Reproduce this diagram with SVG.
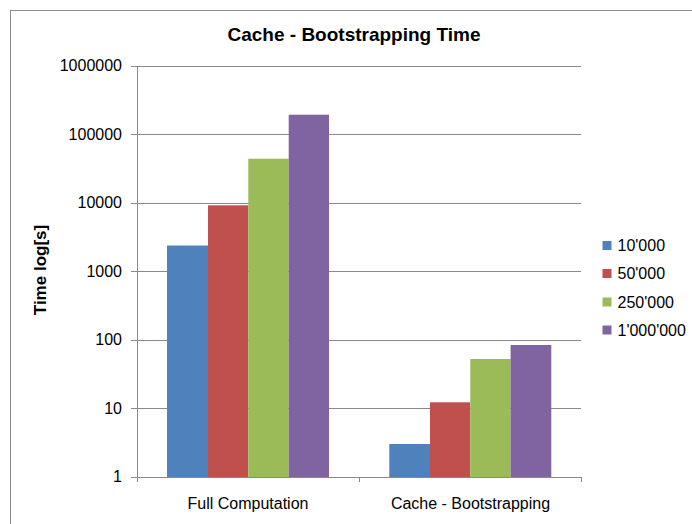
<svg xmlns="http://www.w3.org/2000/svg" width="692" height="524" viewBox="0 0 692 524">
  <style>
    .lbl { font-family: "Liberation Sans", Arial, sans-serif; font-size: 16px; fill: #000; }
    .ytick { text-anchor: end; }
    .cat { text-anchor: middle; }
    .title { font-family: "Liberation Sans", Arial, sans-serif; font-weight: bold; font-size: 19px; fill: #000; text-anchor: middle; }
    .ytitle { font-family: "Liberation Sans", Arial, sans-serif; font-weight: bold; font-size: 17px; fill: #000; text-anchor: middle; }
    .grid { stroke: #898989; stroke-width: 1; fill: none; }
    .axis { stroke: #898989; stroke-width: 1; fill: none; }
    .s1 { fill: #4F81BD; }
    .s2 { fill: #C0504D; }
    .s3 { fill: #9BBB59; }
    .s4 { fill: #8064A2; }
  </style>
  <rect x="0" y="0" width="692" height="524" fill="#ffffff"/>
  <rect x="10.5" y="10.5" width="700" height="600" fill="none" stroke="#8c8c8c" stroke-width="1"/>

  <g id="title">
    <text class="title" x="354" y="41">Cache - Bootstrapping Time</text>
  </g>

  <g id="gridlines">
    <line class="grid" x1="131" y1="66.5" x2="581" y2="66.5"/>
    <line class="grid" x1="131" y1="134.5" x2="581" y2="134.5"/>
    <line class="grid" x1="131" y1="203.5" x2="581" y2="203.5"/>
    <line class="grid" x1="131" y1="271.5" x2="581" y2="271.5"/>
    <line class="grid" x1="131" y1="340.5" x2="581" y2="340.5"/>
    <line class="grid" x1="131" y1="408.5" x2="581" y2="408.5"/>
  </g>

  <g id="y-axis">
    <line class="axis" x1="137.5" y1="66" x2="137.5" y2="482"/>
    <line class="axis" x1="131" y1="477.5" x2="137" y2="477.5"/>
    <text class="lbl ytick" x="122" y="71">1000000</text>
    <text class="lbl ytick" x="122" y="139.5">100000</text>
    <text class="lbl ytick" x="122" y="208">10000</text>
    <text class="lbl ytick" x="122" y="276.5">1000</text>
    <text class="lbl ytick" x="122" y="345">100</text>
    <text class="lbl ytick" x="122" y="413.5">10</text>
    <text class="lbl ytick" x="122" y="482">1</text>
    <text class="ytitle" transform="translate(46,270) rotate(-90)">Time log[s]</text>
  </g>

  <g id="bars-full">
    <rect class="s1" x="167" y="245.5" width="41" height="231.5"/>
    <rect class="s2" x="208" y="205.3" width="40.3" height="271.7"/>
    <rect class="s3" x="248.3" y="158.7" width="40.4" height="318.3"/>
    <rect class="s4" x="288.7" y="114.7" width="40.3" height="362.3"/>
  </g>

  <g id="bars-cache">
    <rect class="s1" x="389.3" y="444" width="40.7" height="33"/>
    <rect class="s2" x="430" y="402.3" width="40.3" height="74.7"/>
    <rect class="s3" x="470.3" y="359" width="40.3" height="118"/>
    <rect class="s4" x="510.6" y="345" width="40.7" height="132"/>
  </g>

  <g id="x-axis">
    <line class="axis" x1="137" y1="477.5" x2="581" y2="477.5"/>
    <line class="axis" x1="137.5" y1="477" x2="137.5" y2="482"/>
    <line class="axis" x1="359.5" y1="477" x2="359.5" y2="482"/>
    <line class="axis" x1="581.5" y1="477" x2="581.5" y2="482"/>
    <text class="lbl cat" x="248" y="509">Full Computation</text>
    <text class="lbl cat" x="470.5" y="509">Cache - Bootstrapping</text>
  </g>

  <g id="legend">
    <rect class="s1" x="602.5" y="241" width="9" height="9"/>
    <text class="lbl" x="617.5" y="251">10'000</text>
    <rect class="s2" x="602.5" y="269" width="9" height="9"/>
    <text class="lbl" x="617.5" y="279">50'000</text>
    <rect class="s3" x="602.5" y="297.5" width="9" height="9"/>
    <text class="lbl" x="617.5" y="307.5">250'000</text>
    <rect class="s4" x="602.5" y="325.5" width="9" height="9"/>
    <text class="lbl" x="617.5" y="336">1'000'000</text>
  </g>
</svg>
